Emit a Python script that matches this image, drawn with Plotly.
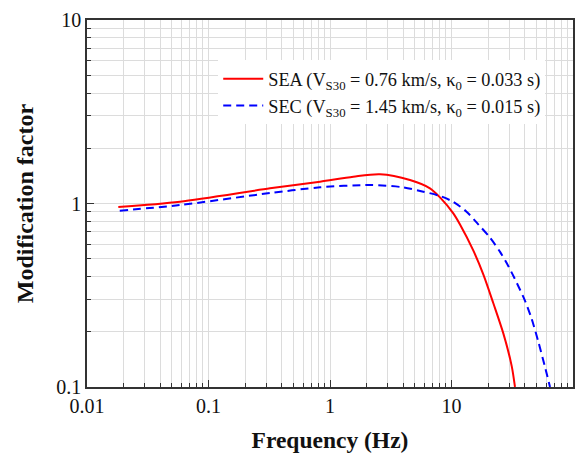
import plotly.graph_objects as go

# Site modification factors read per frequency (Hz)
sea_freq = [0.0181, 0.0582, 0.321, 0.828, 1.556, 2.58, 4.55, 6.65, 8.04, 10.35, 11.75, 15.1, 18.3, 22.1, 26.7, 31.3, 33.3]
sea_mf = [0.957, 1.023, 1.21, 1.315, 1.40, 1.443, 1.343, 1.21, 1.08, 0.883, 0.768, 0.555, 0.41, 0.286, 0.196, 0.13, 0.1]

sec_freq = [0.0186, 0.0582, 0.321, 0.828, 2.13, 4.0, 5.86, 8.04, 10.35, 13.3, 16.6, 20.6, 25.1, 29.4,
            34.4, 40.3, 45.7, 51.9, 58.9, 64.7]
sec_mf = [0.914, 0.981, 1.14, 1.225, 1.261, 1.225, 1.16, 1.099, 1.02, 0.902, 0.77, 0.655, 0.545, 0.455,
          0.37, 0.295, 0.235, 0.176, 0.128, 0.1]

sea_name = "SEA (V<sub>S30</sub> = 0.76 km/s, κ<sub>0</sub> = 0.033 s)"
sec_name = "SEC (V<sub>S30</sub> = 1.45 km/s, κ<sub>0</sub> = 0.015 s)"

x_ticks = [0.01, 0.1, 1, 10, 100]
y_ticks = [0.1, 1, 10]

font_family = "Liberation Serif, Times New Roman, serif"

fig = go.Figure()
fig.add_trace(go.Scatter(
    x=sea_freq, y=sea_mf, mode="lines", name=sea_name,
    line=dict(color="#ff0000", width=2, shape="spline", smoothing=0.8),
))
fig.add_trace(go.Scatter(
    x=sec_freq, y=sec_mf, mode="lines", name=sec_name,
    line=dict(color="#0000ff", width=2, dash="8px,5px", shape="spline", smoothing=0.8),
))

axis_common = dict(
    type="log",
    automargin=False,
    showline=True, linecolor="#333333", linewidth=1.5, mirror=True,
    ticks="inside", ticklen=7, tickwidth=1.2, tickcolor="#333333",
    showgrid=True, gridcolor="#dcdcdc", gridwidth=1,
    zeroline=False,
    tickfont=dict(family=font_family, size=20, color="#111111"),
    minor=dict(dtick="D1", ticks="inside", ticklen=4, tickwidth=1, tickcolor="#333333",
               showgrid=True, gridcolor="#dcdcdc", gridwidth=1),
)

fig.update_xaxes(
    **axis_common,
    range=[-2, 2],
    tickmode="array", tickvals=x_ticks, ticktext=[str(v) for v in x_ticks],
    title=dict(text="<b>Frequency (Hz)</b>", font=dict(family=font_family, size=23.5, color="#111111"), standoff=16),
)
fig.update_yaxes(
    **axis_common,
    range=[-1, 1],
    tickmode="array", tickvals=y_ticks, ticktext=[str(v) for v in y_ticks],
    title=dict(text="<b>Modification factor</b>", font=dict(family=font_family, size=24, color="#111111"), standoff=16),
)

fig.update_layout(
    width=587, height=455,
    margin=dict(l=87, r=14, t=20, b=68),
    plot_bgcolor="white", paper_bgcolor="white",
    font=dict(family=font_family, color="#111111"),
    legend=dict(
        x=0.27, y=0.89, xanchor="left", yanchor="top",
        bgcolor="white", borderwidth=0,
        font=dict(family=font_family, size=18.3, color="#111111"),
        itemwidth=40, tracegroupgap=4,
    ),
)

fig.write_html("out.html")
